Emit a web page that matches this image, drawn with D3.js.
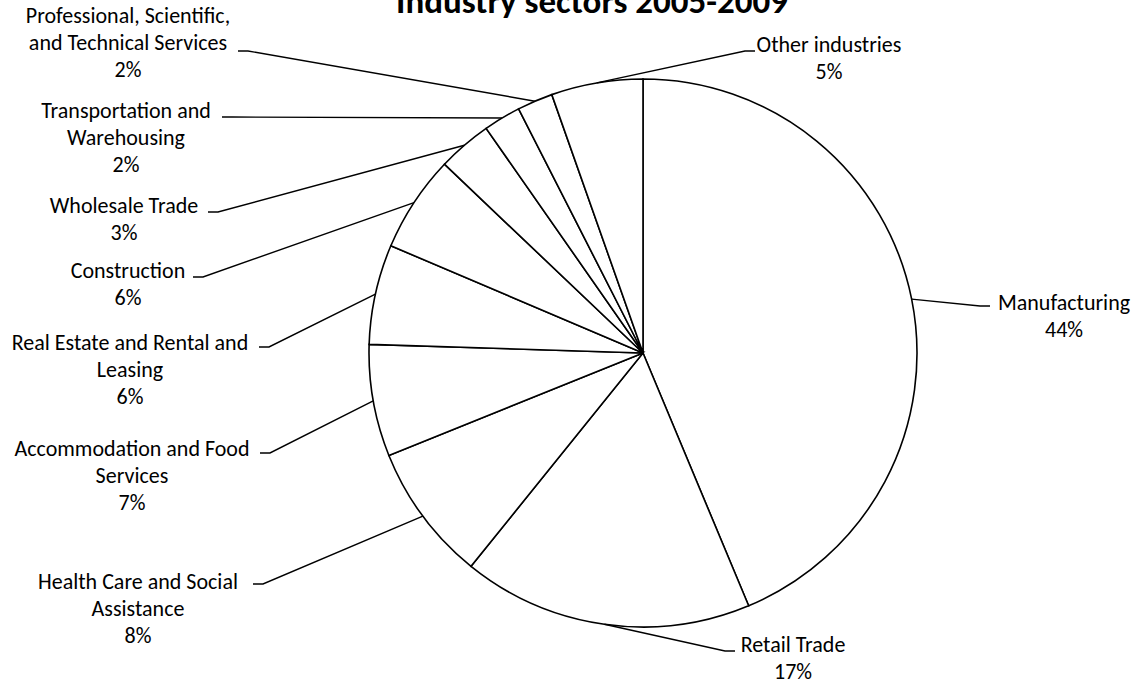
<!DOCTYPE html>
<meta charset="utf-8">
<title>Industry sectors 2005-2009</title>
<style>
body { margin: 0; background: #fff; }
text { font-family: Calibri, Carlito, Lato, sans-serif; fill: #000; }
.slices path { fill: #fff; stroke: #000; stroke-width: 1.6px; }
.leaders polyline { fill: none; stroke: #000; stroke-width: 1.4px; }
</style>
<svg width="1141" height="685"></svg>
<script src="https://d3js.org/d3.v7.min.js"></script>
<script>
// sectors, clockwise from 12 o'clock
var categories = [
  "Manufacturing",
  "Retail Trade",
  "Health Care and Social\nAssistance",
  "Accommodation and Food\nServices",
  "Real Estate  and Rental and\nLeasing",
  "Construction",
  "Wholesale Trade",
  "Transportation and\nWarehousing",
  "Professional, Scientific,\nand Technical Services",
  "Other industries"
];
var shares = [43.7, 17.1, 8.1, 6.6, 5.9, 5.7, 3.2, 2.2, 2.1, 5.4];

// label placement (same order as categories)
var labelX = [1064, 793, 138, 132, 130, 128, 124, 126, 128, 829];
var labelY = [302, 644, 581, 448, 342, 270, 205, 110, 15, 44];
var elbowX = [980, 725, 263, 270, 269, 203, 218, 232, 248, 745];
var elbowY = [306, 651, 584, 453, 347, 277, 212, 117, 51, 51];

var svg = d3.select("svg"),
    width = +svg.attr("width"),
    height = +svg.attr("height");

var cx = 643, cy = 353, r = 274;
var lineH = 27, stub = 10;

svg.append("text")
    .attr("x", 592)
    .attr("y", 13)
    .attr("text-anchor", "middle")
    .style("font-size", "35px")
    .style("font-weight", "bold")
    .text("Industry sectors 2005-2009");

var total = d3.sum(shares);
var pie = d3.pie().sort(null).value(function(d) { return d; });
var arc = d3.arc().innerRadius(0).outerRadius(r);
var arcs = pie(shares);

var g = svg.append("g").attr("transform", "translate(" + cx + "," + cy + ")");

g.append("g")
    .attr("class", "slices")
  .selectAll("path")
  .data(arcs)
  .enter().append("path")
    .attr("d", arc);

svg.append("g")
    .attr("class", "leaders")
  .selectAll("polyline")
  .data(arcs)
  .enter().append("polyline")
    .attr("points", function(d, i) {
      var a = (d.startAngle + d.endAngle) / 2;
      var sx = cx + r * Math.sin(a), sy = cy - r * Math.cos(a);
      var ex = elbowX[i], ey = elbowY[i];
      var tx = ex > cx ? ex + stub : ex - stub;
      return [[sx, sy], [ex, ey], [tx, ey]].join(" ");
    });

var labels = svg.append("g")
    .attr("class", "labels")
  .selectAll("text")
  .data(arcs)
  .enter().append("text")
    .attr("text-anchor", "middle")
    .style("font-size", "22px");

labels.each(function(d, i) {
  var lines = categories[i].split("\n");
  lines.push(Math.round(d.value / total * 100) + "%");
  d3.select(this).selectAll("tspan")
    .data(lines)
    .enter().append("tspan")
      .attr("x", labelX[i])
      .attr("y", function(t, k) { return labelY[i] + k * lineH; })
      .attr("dy", "0.35em")
      .text(function(t) { return t; });
});
</script>
